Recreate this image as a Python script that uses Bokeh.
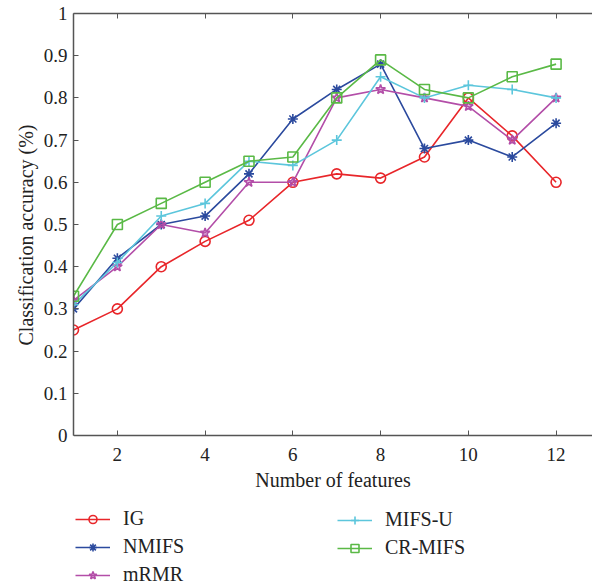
from bokeh.plotting import figure
from bokeh.models import Range1d, FixedTicker, LinearAxis, Legend, LegendItem, Title
from bokeh.embed import file_html
from bokeh.resources import INLINE

features = [1, 2, 3, 4, 5, 6, 7, 8, 9, 10, 11, 12]
ig = [0.25, 0.30, 0.40, 0.46, 0.51, 0.60, 0.62, 0.61, 0.66, 0.80, 0.71, 0.60]
nmifs = [0.30, 0.42, 0.50, 0.52, 0.62, 0.75, 0.82, 0.88, 0.68, 0.70, 0.66, 0.74]
mrmr = [0.32, 0.40, 0.50, 0.48, 0.60, 0.60, 0.80, 0.82, 0.80, 0.78, 0.70, 0.80]
mifsu = [0.31, 0.41, 0.52, 0.55, 0.65, 0.64, 0.70, 0.85, 0.80, 0.83, 0.82, 0.80]
crmifs = [0.33, 0.50, 0.55, 0.60, 0.65, 0.66, 0.80, 0.89, 0.82, 0.80, 0.85, 0.88]

x_ticks = [2, 4, 6, 8, 10, 12]
y_ticks = [0, 0.1, 0.2, 0.3, 0.4, 0.5, 0.6, 0.7, 0.8, 0.9, 1.0]

FONT = "Liberation Serif"
AX = "#555555"
TXT = "#222222"

# frame spans the whole height below the top margin; y = 0 sits 151 px above the bottom
p = figure(frame_width=519, frame_height=573, output_backend="svg", toolbar_location=None,
           x_range=Range1d(1, 12.83), y_range=Range1d(-151 / 422, 1),
           min_border_left=73, min_border_right=0, min_border_top=13, min_border_bottom=0)
p.outline_line_color = None
p.grid.visible = False
p.background_fill_color = "white"

for ax in (p.xaxis[0], p.yaxis[0]):
    ax.axis_line_color = AX
    ax.axis_line_width = 1.5
    ax.major_tick_line_color = AX
    ax.major_tick_in = 5
    ax.major_tick_out = 0
    ax.minor_tick_line_color = None
    ax.major_label_text_font = FONT
    ax.major_label_text_font_size = "19px"
    ax.major_label_text_color = TXT
    ax.axis_label_text_font = FONT
    ax.axis_label_text_font_size = "20px"
    ax.axis_label_text_font_style = "normal"
    ax.axis_label_text_color = TXT

p.xaxis.ticker = FixedTicker(ticks=x_ticks)
p.yaxis.ticker = FixedTicker(ticks=y_ticks)
p.yaxis.bounds = (0, 1)
p.xaxis.fixed_location = 0
p.yaxis.major_label_overrides = {0: "0", 1: "1"}
p.xaxis.axis_label = "Number of features"
p.xaxis.major_label_standoff = 12
p.xaxis.axis_label_standoff = 5
p.yaxis.major_label_standoff = 6

# y-axis title, placed as a left-side title shifted up to the centre of the 0..1 span
ytitle = Title(text="Classification accuracy (%)", align="left", offset=241,
               vertical_align="middle", text_font=FONT, text_font_size="20px",
               text_font_style="normal", text_color=TXT, standoff=6)
p.add_layout(ytitle, "left")

top = LinearAxis(ticker=FixedTicker(ticks=x_ticks), axis_line_color=AX, axis_line_width=1.5,
                 major_tick_line_color=AX, major_tick_in=5, major_tick_out=0,
                 minor_tick_line_color=None,
                 major_label_overrides={t: "" for t in x_ticks})
p.add_layout(top, "above")

series = [
    ("IG", ig, "#e8262a", "circle"),
    ("NMIFS", nmifs, "#2b4a9e", "asterisk"),
    ("mRMR", mrmr, "#b34ea8", "star"),
    ("MIFS-U", mifsu, "#5cc6dc", "cross"),
    ("CR-MIFS", crmifs, "#5ab946", "square"),
]

items = []
for name, vals, color, marker in series:
    l = p.line(features, vals, line_color=color, line_width=1.6)
    s = p.scatter(features, vals, marker=marker, size=10, line_color=color, fill_color=None,
                  line_width=1.6)
    items.append(LegendItem(label=name, renderers=[l, s]))

def make_legend(its, x, y):
    lg = Legend(items=its, location=(x, y), orientation="vertical",
                label_text_font=FONT, label_text_font_size="20px", label_text_color=TXT,
                glyph_width=35, glyph_height=20, label_height=20, label_standoff=13,
                spacing=5, padding=0, margin=0, border_line_color=None,
                background_fill_alpha=0)
    p.add_layout(lg, "center")

make_legend(items[:3], 2, 0)
make_legend(items[3:], 264, 27)

open("out.html", "w").write(file_html(p, INLINE))
